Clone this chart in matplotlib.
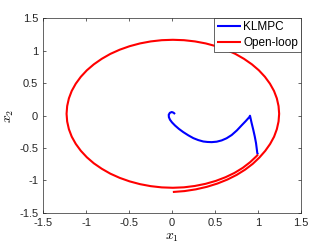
import matplotlib
matplotlib.use("Agg")
import matplotlib.pyplot as plt

plt.rcParams['font.family'] = ['Liberation Sans', 'DejaVu Sans']
plt.rcParams['mathtext.fontset'] = 'cm'

# KLMPC closed-loop trajectory
klmpc_x1 = [1.000, 0.992, 0.977, 0.962, 0.945, 0.925, 0.907,
            0.899, 0.855, 0.810, 0.755, 0.694, 0.635, 0.578, 0.520, 0.461, 0.410,
            0.364, 0.305, 0.248, 0.190, 0.131, 0.080, 0.035, 0.000, -0.023, -0.036,
            -0.038, -0.025, -0.003, 0.018, 0.035]
klmpc_x2 = [-0.600, -0.580, -0.425, -0.320, -0.219, -0.110, -0.002,
            -0.023, -0.088, -0.150, -0.228, -0.300, -0.350, -0.383, -0.403, -0.410, -0.407,
            -0.400, -0.378, -0.348, -0.305, -0.255, -0.205, -0.153, -0.105, -0.064, -0.025,
            0.013, 0.043, 0.055, 0.045, 0.024]

# Open-loop trajectory
open_x1 = [1.000, 0.983, 0.908, 0.823, 0.727, 0.622, 0.509, 0.390, 0.266, 0.139, 0.010,
           -0.119, -0.247, -0.372, -0.493, -0.608, -0.717, -0.817, -0.909, -0.990, -1.060,
           -1.119, -1.166, -1.199, -1.219, -1.226,
           -1.219, -1.199, -1.166, -1.119, -1.060, -0.990, -0.909, -0.817, -0.717, -0.608,
           -0.493, -0.372, -0.247, -0.119, 0.010,
           0.139, 0.267, 0.392, 0.513, 0.628, 0.737, 0.837, 0.929, 1.010, 1.080,
           1.139, 1.186, 1.219, 1.239, 1.246,
           1.239, 1.219, 1.187, 1.141, 1.084, 1.016, 0.939, 0.850, 0.752, 0.644,
           0.529, 0.406, 0.278, 0.146, 0.010]
open_x2 = [-0.600, -0.626, -0.720, -0.807, -0.885, -0.952, -1.009, -1.054, -1.087, -1.108, -1.115,
           -1.109, -1.090, -1.059, -1.016, -0.962, -0.897, -0.821, -0.737, -0.644, -0.544,
           -0.437, -0.325, -0.210, -0.091, 0.028,
           0.147, 0.266, 0.381, 0.493, 0.600, 0.700, 0.792, 0.877, 0.953, 1.018,
           1.072, 1.115, 1.146, 1.165, 1.171,
           1.165, 1.146, 1.115, 1.072, 1.018, 0.953, 0.877, 0.792, 0.700, 0.600,
           0.493, 0.381, 0.266, 0.147, 0.028,
           -0.091, -0.210, -0.326, -0.438, -0.545, -0.648, -0.745, -0.835, -0.916, -0.988,
           -1.049, -1.100, -1.139, -1.166, -1.180]

ticks = [-1.5, -1, -0.5, 0, 0.5, 1, 1.5]
tick_labels = ['-1.5', '-1', '-0.5', '0', '0.5', '1', '1.5']

fig = plt.figure(figsize=(3.32, 2.49), dpi=100)
ax = fig.add_axes([43/332, 1 - 212.7/249, (301 - 43)/332, (212.7 - 18.5)/249])

ax.plot(klmpc_x1, klmpc_x2, color='#0000ff', lw=1.5, label='KLMPC',
        solid_joinstyle='round', solid_capstyle='butt')
ax.plot(open_x1, open_x2, color='#ff0000', lw=1.5, label='Open-loop',
        solid_joinstyle='round', solid_capstyle='butt')

ax.set_xlim(-1.5, 1.5)
ax.set_ylim(-1.5, 1.5)
ax.set_xticks(ticks)
ax.set_xticklabels(tick_labels)
ax.set_yticks(ticks)
ax.set_yticklabels(tick_labels)
ax.tick_params(direction='in', length=2.5, width=0.5, labelsize=8, colors='#262626',
               top=True, right=True, pad=3.5)
for s in ax.spines.values():
    s.set_linewidth(0.5)
    s.set_color('#262626')
ax.set_xlabel('$x_1$', fontsize=10, labelpad=2)
ax.set_ylabel('$x_2$', fontsize=10, labelpad=2.5)

leg = ax.legend(loc='upper right', fontsize=8.5, frameon=True, fancybox=False,
                borderaxespad=0.0, handlelength=2.0, handletextpad=0.2,
                borderpad=0.25, labelspacing=0.3, edgecolor='#262626', framealpha=1)
leg.get_frame().set_linewidth(0.5)

fig.savefig('out.png', dpi=100)
